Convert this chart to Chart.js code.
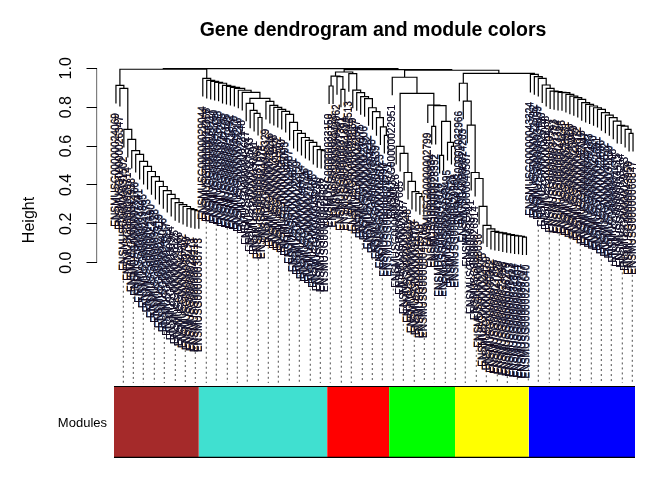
<!DOCTYPE html>
<html>
<head>
<meta charset="utf-8">
<title>Gene dendrogram and module colors</title>
<script src="https://cdn.jsdelivr.net/npm/chart.js@4"></script>
<style>
    html, body { margin: 0; padding: 0; background: #ffffff; }
    canvas { display: block; }
</style>
</head>
<body>
<canvas id="dendroChart" width="672" height="480"></canvas>
<script>
// Merge heights of each module (top of the ladder first)
const brownHeights = [0.912, 0.897, 0.686, 0.634, 0.577, 0.557, 0.521, 0.495, 0.469, 0.443, 0.418,
    0.392, 0.371, 0.351, 0.330, 0.309, 0.299, 0.289, 0.278, 0.273, 0.268];
const turquoiseHeights = [0.948, 0.938, 0.933, 0.928, 0.923, 0.912, 0.907, 0.902, 0.897, 0.887, 0.876];
const turquoiseSplit = 0.845;
const turquoiseLeft = [0.820, 0.784, 0.768, 0.747];
const turquoiseRight = [0.830, 0.809, 0.799, 0.789, 0.778, 0.763, 0.722, 0.680, 0.665, 0.644, 0.629,
    0.619, 0.598, 0.582, 0.577];
const redRoot = 0.981;
const redLeft = { root: 0.960, pair: 0.909, next: 0.957, lastPair: 0.892 };
const redRight = [0.973, 0.888, 0.875, 0.854, 0.844, 0.797, 0.777, 0.746, 0.699, 0.655];
const greenTop = [0.954];
const greenSplit = 0.871;
const greenLeft = [0.598, 0.562, 0.464, 0.418, 0.366, 0.356, 0.340];
const greenRight = { a: 0.811, b: 0.808, c: 0.701, d: 0.727, e: 0.552, f: 0.619, g: 0.598 };
const yellowHeights = [0.923, 0.831, 0.708, 0.464, 0.433, 0.290, 0.192, 0.174, 0.161, 0.156, 0.153,
    0.148, 0.144, 0.141, 0.138, 0.136, 0.132];
const blueHeights = [0.969, 0.957, 0.948, 0.914, 0.897, 0.883, 0.880, 0.876, 0.875, 0.866, 0.857,
    0.849, 0.840, 0.823, 0.814, 0.806, 0.797, 0.789, 0.772, 0.759, 0.746, 0.728, 0.706, 0.703, 0.686, 0.665];
// Joins between the modules
const topHeights = { root: 0.998, brownTurquoise: 0.995, redRest: 0.993, greenRest: 0.990, yellowBlue: 0.974 };
const leafHang = 0.093;

// Leaf ids, in dendrogram order. Most of them can only be estimated in the picture
const idPrefix = 'ENSMUSG000000';
const leafIds = [
    '24069', '26347', '31502', '20714', '42938', '25166', '37241', '29805', '41173', '22690', '35428',
    '27319', '44056', '23817', '30964', '38125', '21586', '46302', '33749', '28471', '40218', '38773',
    '29044', '24358', '36117', '42760', '20933', '31285', '47106', '25892', '34570', '39216', '22148',
    '43627', '27503', '30891', '37664', '21075', '45329', '28216', '33908', '41552', '26740', '35093',
    '24687', '39871', '22359', '48014', '31726', '27168', '36405', '43290', '20586', '29637',
    '33150', '25728', '40962', '37381', '21894', '44513', '28069', '32647', '46175', '23906', '35212',
    '30458', '41839', '26023', '38590', '24771',
    '22951', '34126', '27685', '42307', '20148', '39462', '31073', '25519', '45780', '02799',
    '36834', '28352', '43016', '21267', '33495', '47621', '29908',
    '32966', '24203', '40587', '35741', '26914', '38036', '22475', '44169', '30312', '27856', '41620',
    '23098', '36279', '48453', '31844', '25301', '39707', '28640',
    '43324', '21712', '34859', '26190', '46038', '30527', '37793', '23364', '41245', '28931', '35606',
    '20459', '44872', '32018', '25047', '39183', '27420', '42691', '22836', '36572', '31159', '47308',
    '24415', '38264', '29763', '43950', '66847'
];

// Module colour bar: edges in leaf units and the colours between them
const moduleEdges = [0.5, 22.0, 54.5, 70.2, 86.9, 105.6, 132.5];
const moduleColors = ['#a52a2a', '#40e0d0', '#ff0000', '#00ff00', '#ffff00', '#0000ff'];
const moduleBarTop = -0.637;
const moduleBarBottom = -1.002;

// Dotted guide lines, in leaf units
const guideLeaves = [2.86, 5.39, 7.92, 10.71, 13.24, 16.03, 18.56, 21.10, 23.88, 26.42, 29.21, 31.74,
    34.27, 37.06, 39.59, 42.13, 44.91, 47.45, 50.23, 52.77, 55.30, 58.09, 60.62, 63.41, 65.94, 68.48,
    71.26, 73.80, 76.58, 79.12, 81.65, 84.44, 86.97, 89.50, 92.29, 94.83, 97.61, 100.15, 102.68, 105.47,
    108.00, 110.79, 113.32, 116.11, 118.64, 121.43, 123.96, 126.49, 129.28, 131.81];
const guideBottom = -0.619;
const guideBehindLabels = 0.3;

// Y axis
const yTicks = [0, 0.2, 0.4, 0.6, 0.8, 1];
const yMin = -1.015;
const yMax = 1.0427;
const xMin = -3.93;
const xMax = 132.5;

// Tree helpers
const LEAF = null;

function node(h, a, b) {
    return { h: h, a: a, b: b };
}

// Each height joins one single leaf with everything after it
function ladder(heights, tail) {
    let current = tail === undefined ? LEAF : tail;
    for (let i = heights.length - 1; i >= 0; i--) {
        current = node(heights[i], LEAF, current);
    }
    return current;
}

const brownTree = ladder(brownHeights);
const turquoiseTree = ladder(turquoiseHeights,
    node(turquoiseSplit, ladder(turquoiseLeft), ladder(turquoiseRight)));
const redTree = node(redRoot,
    node(redLeft.root, node(redLeft.pair, LEAF, LEAF),
        node(redLeft.next, LEAF, node(redLeft.lastPair, LEAF, LEAF))),
    ladder(redRight));
const greenTree = ladder(greenTop, node(greenSplit, ladder(greenLeft),
    node(greenRight.a, LEAF, node(greenRight.b,
        node(greenRight.c, LEAF, LEAF),
        node(greenRight.d, node(greenRight.e, LEAF, LEAF),
            node(greenRight.f, LEAF, node(greenRight.g, LEAF, LEAF)))))));
const yellowBlueTree = node(topHeights.yellowBlue, ladder(yellowHeights), ladder(blueHeights));
const fullTree = node(topHeights.root,
    node(topHeights.brownTurquoise, brownTree, turquoiseTree),
    node(topHeights.redRest, redTree, node(topHeights.greenRest, greenTree, yellowBlueTree)));

// Walk the tree and collect line points, with a gap after every merge
const treePoints = [];
const leafEnds = [];

function walk(n, parentHeight) {
    if (n === LEAF) {
        leafEnds.push(parentHeight - leafHang);
        return { x: leafEnds.length, bottom: parentHeight - leafHang };
    }
    const left = walk(n.a, n.h);
    const right = walk(n.b, n.h);
    treePoints.push({ x: left.x, y: left.bottom }, { x: left.x, y: n.h },
        { x: right.x, y: n.h }, { x: right.x, y: right.bottom }, { x: right.x, y: null });
    return { x: (left.x + right.x) / 2, bottom: n.h };
}
walk(fullTree, 1);

function buildGuidePoints() {
    const points = [];
    guideLeaves.forEach(pos => {
        const nearest = Math.min(leafEnds.length, Math.max(1, Math.round(pos)));
        points.push({ x: pos, y: leafEnds[nearest - 1] - guideBehindLabels },
            { x: pos, y: guideBottom }, { x: pos, y: null });
    });
    return points;
}

function buildModuleDatasets() {
    return moduleColors.map((color, i) => ({
        data: [{ x: moduleEdges[i], y: moduleBarTop }, { x: moduleEdges[i + 1], y: moduleBarTop }],
        backgroundColor: color,
        borderWidth: 0,
        fill: { value: moduleBarBottom },
        showLine: true,
        pointRadius: 0,
        order: 5
    }));
}

function lineDataset(points, extra) {
    return Object.assign({
        data: points,
        showLine: true,
        borderColor: '#000000',
        borderWidth: 1.2,
        pointRadius: 0,
        fill: false,
        spanGaps: false,
        order: 1
    }, extra || {});
}

// Text that R puts around the plot: title, axis title, tick labels, bar label and leaf labels
const textPlugin = {
    id: 'dendroText',
    beforeDatasetsDraw(chart) {
        const { ctx, scales } = chart;
        ctx.save();
        ctx.fillStyle = '#000000';
        ctx.textBaseline = 'middle';
        ctx.font = 'bold 19.5px "Liberation Sans"';
        ctx.textAlign = 'center';
        ctx.fillText('Gene dendrogram and module colors', 373, 31);
        ctx.font = '13px "Liberation Sans"';
        ctx.textAlign = 'right';
        ctx.fillText('Modules', 107, 423);
        ctx.textAlign = 'center';
        ctx.font = '16px "Liberation Sans"';
        yTicks.forEach(v => {
            ctx.save();
            ctx.translate(67, scales.y.getPixelForValue(v));
            ctx.rotate(-Math.PI / 2);
            ctx.fillText(v.toFixed(1), 0, 0);
            ctx.restore();
        });
        ctx.translate(30, 220);
        ctx.rotate(-Math.PI / 2);
        ctx.fillText('Height', 0, 0);
        ctx.restore();
    },
    afterDatasetsDraw(chart) {
        const { ctx, scales } = chart;
        ctx.save();
        ctx.font = '10.2px "Liberation Sans"';
        ctx.textAlign = 'right';
        ctx.textBaseline = 'middle';
        // the reference text has coloured fringes, so orange and blue go under the black
        const passes = [[-0.4, '#c89048'], [0.4, '#4a78b8'], [0, '#140a20']];
        passes.forEach(pass => {
            ctx.fillStyle = pass[1];
            leafIds.forEach((id, i) => {
                ctx.save();
                ctx.translate(scales.x.getPixelForValue(i + 1) + pass[0], scales.y.getPixelForValue(leafEnds[i]) + 9.5);
                ctx.rotate(-Math.PI / 2);
                ctx.fillText(idPrefix + id, 0, 0);
                ctx.restore();
            });
        });
        ctx.restore();
    }
};

document.addEventListener('DOMContentLoaded', function() {
    const ctx = document.getElementById('dendroChart').getContext('2d');

    new Chart(ctx, {
        type: 'scatter',
        data: {
            datasets: [
                lineDataset(treePoints),
                lineDataset([{ x: xMin, y: 0 }, { x: xMin, y: 1 }]),
                lineDataset(buildGuidePoints(), { borderColor: '#4d4d4d', borderWidth: 1, borderDash: [2, 3], order: 3 }),
                lineDataset([{ x: moduleEdges[0], y: moduleBarTop }, { x: moduleEdges[6], y: moduleBarTop }], { order: 2 }),
                lineDataset([{ x: moduleEdges[0], y: moduleBarBottom }, { x: moduleEdges[6], y: moduleBarBottom }], { order: 2 })
            ].concat(buildModuleDatasets())
        },
        options: {
            responsive: false,
            animation: false,
            devicePixelRatio: 1,
            layout: { padding: { top: 60, bottom: 20, left: 0, right: 37 } },
            plugins: {
                legend: { display: false },
                tooltip: { enabled: false },
                title: { display: false }
            },
            scales: {
                x: { type: 'linear', display: false, min: xMin, max: xMax },
                y: {
                    type: 'linear',
                    min: yMin,
                    max: yMax,
                    border: { display: false },
                    grid: { drawOnChartArea: false, drawTicks: true, tickLength: 10, color: '#000000', lineWidth: 1 },
                    afterBuildTicks: scale => {
                        scale.ticks = yTicks.map(v => ({ value: v }));
                    },
                    afterFit: scale => {
                        scale.width = 96.5;
                    },
                    ticks: { display: false }
                }
            }
        },
        plugins: [textPlugin]
    });
});
</script>
</body>
</html>
